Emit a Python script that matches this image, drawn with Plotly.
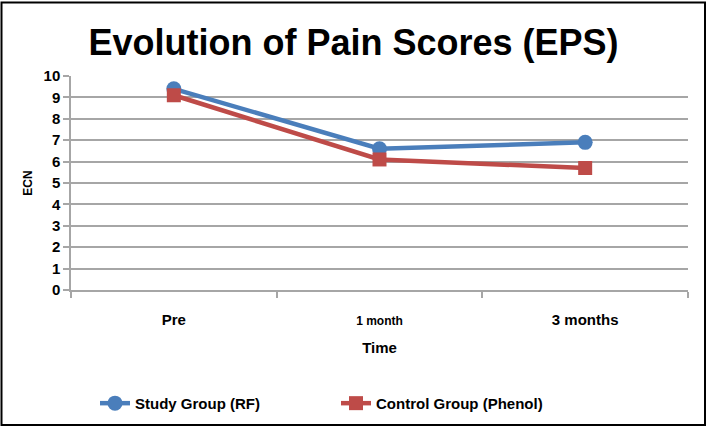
import plotly.graph_objects as go

categories = ["Pre", "1 month", "3 months"]
tick_labels = ["<b>Pre</b>", "<b><span style='font-size:12px'>1 month</span></b>", "<b><span style='font-size:15px'>3 months</span></b>"]
study_rf = [9.4, 6.6, 6.9]
control_phenol = [9.1, 6.1, 5.7]
y_ticks = list(range(0, 11))
y_tick_labels = ["<b>%d</b>" % v for v in y_ticks]

BLUE = "#4a7ebb"
RED = "#be4b48"
GRID = "#a6a6a6"
FONT = "Liberation Sans, Arial, sans-serif"

fig = go.Figure()
fig.add_trace(go.Scatter(
    x=categories, y=study_rf, name="<b>Study Group (RF)</b>", mode="lines+markers",
    line=dict(color=BLUE, width=4.5),
    marker=dict(symbol="circle", size=15, color=BLUE),
))
fig.add_trace(go.Scatter(
    x=categories, y=control_phenol, name="<b>Control Group (Phenol)</b>", mode="lines+markers",
    line=dict(color=RED, width=4.5),
    marker=dict(symbol="square", size=14, color=RED),
))

L, R, T, B = 71, 19, 76, 139
W, H = 707, 432
pw, ph = W - L - R, H - T - B

def px_x(p):
    return (p - L) / pw

def px_y(p):
    return (H - B - p) / ph

fig.update_layout(
    width=W, height=H,
    margin=dict(l=L, r=R, t=T, b=B),
    paper_bgcolor="white", plot_bgcolor="white",
    font=dict(family=FONT, color="black"),
    title=dict(text="<b>Evolution of Pain Scores (EPS)</b>", x=0.5, xanchor="center",
               y=1 - 42 / H, yanchor="middle", xref="container",
               font=dict(size=36, family=FONT, color="black")),
    showlegend=True,
    legend=dict(orientation="h", x=px_x(95), xanchor="left", y=px_y(408), yanchor="middle",
                font=dict(size=15, family=FONT, color="black"),
                entrywidth=196, entrywidthmode="pixels",
                bgcolor="rgba(0,0,0,0)"),
    shapes=[dict(type="rect", xref="paper", yref="paper",
                 x0=px_x(1.5), x1=px_x(705), y0=px_y(430), y1=px_y(1.5),
                 line=dict(color="black", width=2), fillcolor="rgba(0,0,0,0)", layer="above")],
)

fig.update_xaxes(
    type="category", categoryorder="array", categoryarray=categories,
    tickvals=categories, ticktext=tick_labels,
    range=[-0.5, 2.5],
    tickson="boundaries", ticks="outside", ticklen=6, tickcolor=GRID, tickwidth=1.5,
    showline=True, linecolor=GRID, linewidth=1.5, showgrid=False,
    tickfont=dict(size=15, family=FONT, color="black"),
    title=dict(text="<b>Time</b>", font=dict(size=15, family=FONT, color="black"), standoff=16),
    ticklabelstandoff=15,
)
fig.update_yaxes(
    range=[0, 10], tickvals=y_ticks, ticktext=y_tick_labels,
    ticks="outside", ticklen=6, tickcolor=GRID, tickwidth=1.5,
    showline=True, linecolor=GRID, linewidth=1.5,
    showgrid=True, gridcolor=GRID, gridwidth=1.5, zeroline=False,
    tickfont=dict(size=15, family=FONT, color="black"),
    title=dict(text="<b>ECN</b>", font=dict(size=12, family=FONT, color="black"), standoff=8),
)

fig.write_html("out.html", config={"displayModeBar": False},
               post_script="document.body.style.margin='0';")
